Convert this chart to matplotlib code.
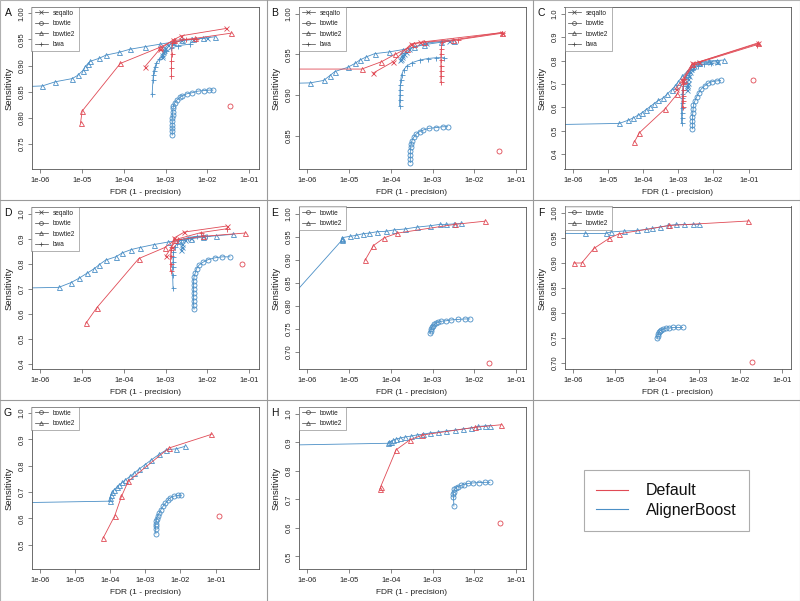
import numpy as np
import matplotlib
matplotlib.use("Agg")
import matplotlib.pyplot as plt
from matplotlib.lines import Line2D
from matplotlib.patches import Rectangle
from matplotlib.ticker import NullLocator

plt.rcParams['font.family'] = ['Liberation Sans', 'DejaVu Sans']

# ---- data: log10(FDR) and sensitivity ----
# panel A
a_seqalto_def_lfdr = [-3.49, -3.14, -2.82, -2.62, -1.55]
a_seqalto_def_sens = [0.898, 0.931, 0.949, 0.957, 0.971]
a_seqalto_boost_lfdr = [-3.09, -3.08, -3.06, -3.04, -3.01, -2.95, -2.82, -2.62, -2.34, -2.02]
a_seqalto_boost_sens = [0.916, 0.920, 0.925, 0.930, 0.934, 0.939, 0.944, 0.948, 0.950, 0.953]
a_bowtie_def_lfdr = [-1.47]
a_bowtie_def_sens = [0.823]
a_bowtie_boost_lfdr = [-2.84, -2.84, -2.84, -2.84, -2.84, -2.84, -2.83, -2.83, -2.82, -2.81,
                       -2.78, -2.73, -2.66, -2.60, -2.49, -2.36, -2.23, -2.09, -1.95, -1.87]
a_bowtie_boost_sens = [0.767, 0.774, 0.780, 0.786, 0.793, 0.799, 0.805, 0.812, 0.818, 0.823,
                       0.829, 0.834, 0.839, 0.842, 0.846, 0.848, 0.851, 0.852, 0.853, 0.853]
a_bowtie2_def_lfdr = [-5.03, -4.99, -4.08, -3.13, -2.80, -2.30, -1.43]
a_bowtie2_def_sens = [0.790, 0.813, 0.904, 0.935, 0.948, 0.952, 0.962]
a_bowtie2_boost_lfdr = [-7.5, -5.94, -5.63, -5.23, -5.10, -4.98, -4.92, -4.86, -4.80, -4.58,
                        -4.42, -4.12, -3.86, -3.50, -3.12, -2.82, -2.60, -2.36, -2.11, -1.83]
a_bowtie2_boost_sens = [0.856, 0.861, 0.869, 0.875, 0.881, 0.890, 0.898, 0.903, 0.908, 0.914,
                        0.920, 0.925, 0.931, 0.936, 0.941, 0.945, 0.948, 0.950, 0.952, 0.955]
a_bwa_def_lfdr = [-2.86, -2.86, -2.86, -2.85, -2.84, -2.50, -2.27]
a_bwa_def_sens = [0.880, 0.895, 0.909, 0.923, 0.943, 0.950, 0.950]
a_bwa_boost_lfdr = [-3.32, -3.30, -3.29, -3.28, -3.25, -3.22, -3.16, -3.08, -2.98, -2.86, -2.70, -2.42]
a_bwa_boost_sens = [0.845, 0.872, 0.882, 0.890, 0.898, 0.904, 0.912, 0.918, 0.927, 0.933, 0.938, 0.941]

# panel B
b_seqalto_def_lfdr = [-4.42, -3.94, -3.51, -3.30, -1.33]
b_seqalto_def_sens = [0.927, 0.941, 0.963, 0.965, 0.977]
b_seqalto_boost_lfdr = [-3.77, -3.76, -3.74, -3.72, -3.69, -3.64, -3.55, -3.15, -2.60]
b_seqalto_boost_sens = [0.943, 0.945, 0.947, 0.949, 0.951, 0.953, 0.957, 0.964, 0.967]
b_bowtie_def_lfdr = [-1.41]
b_bowtie_def_sens = [0.831]
b_bowtie_boost_lfdr = [-3.53, -3.53, -3.53, -3.53, -3.52, -3.51, -3.49, -3.45, -3.39, -3.31,
                       -3.22, -3.09, -2.91, -2.76, -2.64]
b_bowtie_boost_sens = [0.817, 0.8215, 0.826, 0.831, 0.836, 0.840, 0.844, 0.848, 0.852, 0.855,
                       0.857, 0.859, 0.860, 0.861, 0.861]
b_bowtie2_def_lfdr = [-7.5, -4.69, -4.22, -3.90, -3.62, -3.45, -3.20, -2.50, -1.33]
b_bowtie2_def_sens = [0.932, 0.932, 0.941, 0.950, 0.957, 0.963, 0.965, 0.968, 0.977]
b_bowtie2_boost_lfdr = [-7.5, -5.92, -5.60, -5.45, -5.33, -5.03, -4.85, -4.74, -4.58, -4.38,
                        -4.05, -3.70, -3.45, -3.20, -2.80, -2.48]
b_bowtie2_boost_sens = [0.913, 0.915, 0.918, 0.924, 0.929, 0.934, 0.939, 0.943, 0.947, 0.951,
                        0.953, 0.956, 0.959, 0.962, 0.965, 0.967]
b_bwa_def_lfdr = [-2.80, -2.80, -2.80, -2.80, -2.80, -2.80, -2.79, -2.78, -2.40, -1.35]
b_bwa_def_sens = [0.916, 0.923, 0.930, 0.936, 0.943, 0.951, 0.957, 0.965, 0.968, 0.976]
b_bwa_boost_lfdr = [-3.785, -3.785, -3.777, -3.777, -3.77, -3.76, -3.74, -3.69, -3.61, -3.48,
                    -3.31, -3.11, -2.91, -2.72]
b_bwa_boost_sens = [0.887, 0.894, 0.900, 0.906, 0.912, 0.918, 0.925, 0.931, 0.936, 0.940,
                    0.943, 0.945, 0.946, 0.946]

# panel C
c_seqalto_def_lfdr = [-3.08, -2.89, -2.60, -2.40, -0.72]
c_seqalto_def_sens = [0.678, 0.718, 0.788, 0.795, 0.876]
c_seqalto_boost_lfdr = [-2.75, -2.75, -2.74, -2.73, -2.72, -2.70, -2.67, -2.63, -2.55, -2.40, -2.10, -1.90]
c_seqalto_boost_sens = [0.675, 0.685, 0.695, 0.705, 0.720, 0.735, 0.750, 0.765, 0.778, 0.788, 0.793, 0.795]
c_bowtie_def_lfdr = [-0.88]
c_bowtie_def_sens = [0.718]
c_bowtie_boost_lfdr = [-2.60, -2.60, -2.60, -2.60, -2.59, -2.58, -2.57, -2.53, -2.48, -2.42,
                       -2.35, -2.25, -2.15, -2.04, -1.90, -1.80]
c_bowtie_boost_sens = [0.508, 0.525, 0.542, 0.559, 0.576, 0.593, 0.610, 0.627, 0.644, 0.661,
                       0.678, 0.692, 0.703, 0.710, 0.713, 0.715]
c_bowtie2_def_lfdr = [-4.25, -4.11, -3.38, -3.03, -2.85, -2.60, -0.72]
c_bowtie2_def_sens = [0.452, 0.491, 0.593, 0.657, 0.715, 0.785, 0.873]
c_bowtie2_boost_lfdr = [-7.5, -4.68, -4.42, -4.28, -4.16, -4.04, -3.92, -3.81, -3.69, -3.57, -3.43,
                        -3.31, -3.19, -3.09, -3.00, -2.89, -2.75, -2.60, -2.42, -2.13, -1.90, -1.71]
c_bowtie2_boost_sens = [0.523, 0.531, 0.545, 0.555, 0.565, 0.576, 0.590, 0.602, 0.616, 0.629, 0.640,
                        0.658, 0.675, 0.692, 0.710, 0.732, 0.753, 0.774, 0.791, 0.798, 0.800, 0.802]
c_bwa_def_lfdr = [-2.88, -2.88, -2.87, -2.87, -2.86, -2.85, -2.55, -0.75]
c_bwa_def_sens = [0.600, 0.625, 0.650, 0.675, 0.700, 0.720, 0.785, 0.868]
c_bwa_boost_lfdr = [-2.91, -2.91, -2.91, -2.91, -2.90, -2.89, -2.89, -2.88, -2.86, -2.83,
                    -2.77, -2.70, -2.58, -2.43, -2.27, -2.08]
c_bwa_boost_sens = [0.531, 0.555, 0.576, 0.597, 0.619, 0.640, 0.658, 0.675, 0.692, 0.710,
                    0.729, 0.746, 0.763, 0.777, 0.785, 0.791]

# panel D
d_seqalto_def_lfdr = [-3.00, -2.85, -2.80, -2.55, -1.54]
d_seqalto_def_sens = [0.830, 0.868, 0.903, 0.927, 0.951]
d_seqalto_boost_lfdr = [-2.62, -2.61, -2.60, -2.54, -2.38, -2.10]
d_seqalto_boost_sens = [0.854, 0.868, 0.881, 0.894, 0.905, 0.910]
d_bowtie_def_lfdr = [-1.17]
d_bowtie_def_sens = [0.801]
d_bowtie_boost_lfdr = [-2.32, -2.33, -2.33, -2.33, -2.33, -2.33, -2.33, -2.33, -2.32, -2.29,
                       -2.26, -2.20, -2.10, -1.98, -1.82, -1.64, -1.46]
d_bowtie_boost_sens = [0.619, 0.636, 0.653, 0.669, 0.685, 0.701, 0.717, 0.732, 0.748, 0.764,
                       0.780, 0.795, 0.807, 0.817, 0.824, 0.828, 0.828]
d_bowtie2_def_lfdr = [-4.90, -4.64, -3.64, -3.02, -2.78, -2.10, -1.10]
d_bowtie2_def_sens = [0.563, 0.625, 0.821, 0.865, 0.894, 0.910, 0.923]
d_bowtie2_boost_lfdr = [-7.5, -5.55, -5.26, -5.07, -4.88, -4.70, -4.58, -4.43, -4.19, -4.03,
                        -3.82, -3.62, -3.28, -2.94, -2.70, -2.40, -2.10, -1.80, -1.38]
d_bowtie2_boost_sens = [0.700, 0.706, 0.725, 0.742, 0.762, 0.781, 0.797, 0.815, 0.828, 0.844,
                        0.857, 0.865, 0.877, 0.887, 0.893, 0.900, 0.907, 0.912, 0.918]
d_bwa_def_lfdr = [-2.88, -2.88, -2.88, -2.87, -2.86, -2.70, -2.15, -1.54]
d_bwa_def_sens = [0.772, 0.800, 0.830, 0.855, 0.868, 0.900, 0.925, 0.940]
d_bwa_boost_lfdr = [-2.82, -2.83, -2.83, -2.82, -2.82, -2.81, -2.78, -2.72, -2.62, -2.46, -2.26, -2.02]
d_bwa_boost_sens = [0.702, 0.755, 0.788, 0.808, 0.828, 0.848, 0.868, 0.883, 0.897, 0.905, 0.910, 0.912]

# panel E
e_bowtie_def_lfdr = [-1.65]
e_bowtie_def_sens = [0.676]
e_bowtie_boost_lfdr = [-3.05, -3.04, -3.03, -3.02, -2.99, -2.96, -2.92, -2.87, -2.79, -2.68,
                       -2.55, -2.39, -2.23, -2.11]
e_bowtie_boost_sens = [0.741, 0.745, 0.749, 0.753, 0.756, 0.759, 0.762, 0.764, 0.766, 0.767,
                       0.769, 0.770, 0.771, 0.771]
e_bowtie2_def_lfdr = [-4.61, -4.41, -4.15, -3.84, -2.47, -1.75]
e_bowtie2_def_sens = [0.899, 0.931, 0.948, 0.958, 0.977, 0.984]
e_bowtie2_boost_lfdr = [-7.0, -5.17, -5.17, -5.16, -4.98, -4.83, -4.65, -4.51, -4.33, -4.11,
                        -3.92, -3.66, -3.38, -3.06, -2.83, -2.68, -2.49, -2.31]
e_bowtie2_boost_sens = [0.755, 0.942, 0.945, 0.948, 0.951, 0.953, 0.957, 0.958, 0.961, 0.962,
                        0.965, 0.967, 0.971, 0.974, 0.977, 0.977, 0.978, 0.979]

# panel F
f_bowtie_def_lfdr = [-1.72]
f_bowtie_def_sens = [0.701]
f_bowtie_boost_lfdr = [-3.98, -3.97, -3.96, -3.95, -3.92, -3.89, -3.84, -3.78, -3.70, -3.60, -3.50, -3.38]
f_bowtie_boost_sens = [0.750, 0.754, 0.758, 0.762, 0.764, 0.766, 0.768, 0.770, 0.770, 0.771, 0.771, 0.771]
f_bowtie2_def_lfdr = [-5.98, -5.79, -5.50, -5.14, -4.91, -3.70, -1.81]
f_bowtie2_def_sens = [0.900, 0.900, 0.929, 0.949, 0.958, 0.975, 0.984]
f_bowtie2_boost_lfdr = [-7.5, -5.70, -5.22, -5.10, -4.78, -4.46, -4.26, -4.10, -3.92, -3.72,
                        -3.54, -3.34, -3.14, -2.98]
f_bowtie2_boost_sens = [0.960, 0.959, 0.959, 0.962, 0.964, 0.965, 0.967, 0.969, 0.972, 0.975,
                        0.977, 0.977, 0.977, 0.977]

# panel G
g_bowtie_def_lfdr = [-0.91]
g_bowtie_def_sens = [0.607]
g_bowtie_boost_lfdr = [-2.70, -2.71, -2.71, -2.70, -2.69, -2.68, -2.65, -2.61, -2.56, -2.50,
                       -2.43, -2.35, -2.29, -2.19, -2.07, -1.98]
g_bowtie_boost_sens = [0.541, 0.560, 0.569, 0.579, 0.589, 0.599, 0.609, 0.619, 0.632, 0.645,
                       0.657, 0.670, 0.678, 0.684, 0.687, 0.687]
g_bowtie2_def_lfdr = [-4.20, -3.87, -3.68, -3.49, -2.33, -1.12]
g_bowtie2_def_sens = [0.525, 0.610, 0.683, 0.740, 0.867, 0.919]
g_bowtie2_boost_lfdr = [-7.5, -4.01, -4.00, -3.98, -3.95, -3.89, -3.82, -3.75, -3.66, -3.57,
                        -3.44, -3.32, -3.18, -3.02, -2.83, -2.61, -2.40, -2.12, -1.88]
g_bowtie2_boost_sens = [0.657, 0.665, 0.678, 0.688, 0.698, 0.708, 0.717, 0.726, 0.736, 0.746,
                        0.759, 0.772, 0.787, 0.803, 0.822, 0.843, 0.860, 0.864, 0.873]

# panel H
h_bowtie_def_lfdr = [-1.40]
h_bowtie_def_sens = [0.616]
h_bowtie_boost_lfdr = [-2.49, -2.50, -2.50, -2.49, -2.48, -2.44, -2.40, -2.33, -2.25, -2.15,
                       -2.03, -1.89, -1.75, -1.63]
h_bowtie_boost_sens = [0.677, 0.709, 0.719, 0.727, 0.735, 0.741, 0.745, 0.749, 0.752, 0.756,
                       0.758, 0.759, 0.760, 0.760]
h_bowtie2_def_lfdr = [-4.25, -4.24, -3.87, -3.54, -3.24, -1.99, -1.36]
h_bowtie2_def_sens = [0.738, 0.744, 0.874, 0.909, 0.926, 0.953, 0.962]
h_bowtie2_boost_lfdr = [-7.5, -4.06, -4.03, -4.00, -3.95, -3.87, -3.78, -3.66, -3.52, -3.38,
                        -3.22, -3.06, -2.87, -2.67, -2.47, -2.27, -2.07, -1.91, -1.75, -1.62]
h_bowtie2_boost_sens = [0.888, 0.897, 0.900, 0.903, 0.907, 0.912, 0.915, 0.919, 0.922, 0.926,
                        0.929, 0.933, 0.936, 0.940, 0.943, 0.947, 0.951, 0.956, 0.958, 0.959]

x_tick_labels = ['1e-06', '1e-05', '1e-04', '1e-03', '1e-02', '1e-01']
legend_labels = ['Default', 'AlignerBoost']

panels = {
    'A': {'seqalto': (a_seqalto_def_lfdr, a_seqalto_def_sens, a_seqalto_boost_lfdr, a_seqalto_boost_sens),
          'bowtie': (a_bowtie_def_lfdr, a_bowtie_def_sens, a_bowtie_boost_lfdr, a_bowtie_boost_sens),
          'bowtie2': (a_bowtie2_def_lfdr, a_bowtie2_def_sens, a_bowtie2_boost_lfdr, a_bowtie2_boost_sens),
          'bwa': (a_bwa_def_lfdr, a_bwa_def_sens, a_bwa_boost_lfdr, a_bwa_boost_sens)},
    'B': {'seqalto': (b_seqalto_def_lfdr, b_seqalto_def_sens, b_seqalto_boost_lfdr, b_seqalto_boost_sens),
          'bowtie': (b_bowtie_def_lfdr, b_bowtie_def_sens, b_bowtie_boost_lfdr, b_bowtie_boost_sens),
          'bowtie2': (b_bowtie2_def_lfdr, b_bowtie2_def_sens, b_bowtie2_boost_lfdr, b_bowtie2_boost_sens),
          'bwa': (b_bwa_def_lfdr, b_bwa_def_sens, b_bwa_boost_lfdr, b_bwa_boost_sens)},
    'C': {'seqalto': (c_seqalto_def_lfdr, c_seqalto_def_sens, c_seqalto_boost_lfdr, c_seqalto_boost_sens),
          'bowtie': (c_bowtie_def_lfdr, c_bowtie_def_sens, c_bowtie_boost_lfdr, c_bowtie_boost_sens),
          'bowtie2': (c_bowtie2_def_lfdr, c_bowtie2_def_sens, c_bowtie2_boost_lfdr, c_bowtie2_boost_sens),
          'bwa': (c_bwa_def_lfdr, c_bwa_def_sens, c_bwa_boost_lfdr, c_bwa_boost_sens)},
    'D': {'seqalto': (d_seqalto_def_lfdr, d_seqalto_def_sens, d_seqalto_boost_lfdr, d_seqalto_boost_sens),
          'bowtie': (d_bowtie_def_lfdr, d_bowtie_def_sens, d_bowtie_boost_lfdr, d_bowtie_boost_sens),
          'bowtie2': (d_bowtie2_def_lfdr, d_bowtie2_def_sens, d_bowtie2_boost_lfdr, d_bowtie2_boost_sens),
          'bwa': (d_bwa_def_lfdr, d_bwa_def_sens, d_bwa_boost_lfdr, d_bwa_boost_sens)},
    'E': {'bowtie': (e_bowtie_def_lfdr, e_bowtie_def_sens, e_bowtie_boost_lfdr, e_bowtie_boost_sens),
          'bowtie2': (e_bowtie2_def_lfdr, e_bowtie2_def_sens, e_bowtie2_boost_lfdr, e_bowtie2_boost_sens)},
    'F': {'bowtie': (f_bowtie_def_lfdr, f_bowtie_def_sens, f_bowtie_boost_lfdr, f_bowtie_boost_sens),
          'bowtie2': (f_bowtie2_def_lfdr, f_bowtie2_def_sens, f_bowtie2_boost_lfdr, f_bowtie2_boost_sens)},
    'G': {'bowtie': (g_bowtie_def_lfdr, g_bowtie_def_sens, g_bowtie_boost_lfdr, g_bowtie_boost_sens),
          'bowtie2': (g_bowtie2_def_lfdr, g_bowtie2_def_sens, g_bowtie2_boost_lfdr, g_bowtie2_boost_sens)},
    'H': {'bowtie': (h_bowtie_def_lfdr, h_bowtie_def_sens, h_bowtie_boost_lfdr, h_bowtie_boost_sens),
          'bowtie2': (h_bowtie2_def_lfdr, h_bowtie2_def_sens, h_bowtie2_boost_lfdr, h_bowtie2_boost_sens)},
}

# axis ranges (log10 x) and y ticks per panel
x_ranges = {'A': (-6.2, -0.78), 'B': (-6.2, -0.78), 'C': (-6.24, 0.22), 'D': (-6.2, -0.78),
            'E': (-6.2, -0.78), 'F': (-6.2, -0.78), 'G': (-6.24, 0.22), 'H': (-6.2, -0.78)}
y_ranges = {'A': (0.702, 1.013), 'B': (0.809, 1.009), 'C': (0.336, 1.031), 'D': (0.380, 1.029),
            'E': (0.662, 1.016), 'F': (0.688, 1.013), 'G': (0.407, 1.025), 'H': (0.456, 1.026)}
y_ticks = {'A': ['0.75', '0.80', '0.85', '0.90', '0.95', '1.00'],
           'B': ['0.85', '0.90', '0.95', '1.00'],
           'C': ['0.4', '0.5', '0.6', '0.7', '0.8', '0.9', '1.0'],
           'D': ['0.4', '0.5', '0.6', '0.7', '0.8', '0.9', '1.0'],
           'E': ['0.70', '0.75', '0.80', '0.85', '0.90', '0.95', '1.00'],
           'F': ['0.70', '0.75', '0.80', '0.85', '0.90', '0.95', '1.00'],
           'G': ['0.5', '0.6', '0.7', '0.8', '0.9', '1.0'],
           'H': ['0.5', '0.6', '0.7', '0.8', '0.9', '1.0']}

RED = '#e04a55'
BLUE = '#4b8fc6'
FRAME = '#555555'
markers = {'seqalto': 'x', 'bowtie': 'o', 'bowtie2': '^', 'bwa': '+'}

W, H = 800, 601
fig = plt.figure(figsize=(8, 6.01), dpi=100)
col_x = [0, 267, 533]
row_y = [0, 200, 400]


def px_rect(x0, y0, w, h):
    return [x0 / W, 1 - (y0 + h) / H, w / W, h / H]


def line_style(name, color):
    return dict(color=color, lw=0.6, marker=markers[name], ms=3.6,
                mfc='none', mec=color, mew=0.6)


for k, letter in enumerate(['A', 'B', 'C', 'D', 'E', 'F', 'G', 'H']):
    cx = col_x[k % 3]
    cy = row_y[k // 3]
    ax = fig.add_axes(px_rect(cx + 31.5, cy + 6.5, 227, 162.5))
    data = panels[letter]

    # AlignerBoost first, Default drawn on top
    for name, (dl, ds, bl, bs) in data.items():
        ax.plot(10.0 ** np.array(bl), bs, **line_style(name, BLUE))
    for name, (dl, ds, bl, bs) in data.items():
        ax.plot(10.0 ** np.array(dl), ds, **line_style(name, RED))

    ax.set_xscale('log')
    x0, x1 = x_ranges[letter]
    ax.set_xlim(10.0 ** x0, 10.0 ** x1)
    ax.set_ylim(*y_ranges[letter])
    ax.set_xticks(10.0 ** np.arange(-6, 0))
    ax.set_xticklabels(x_tick_labels)
    ax.xaxis.set_minor_locator(NullLocator())
    yt = y_ticks[letter]
    ax.set_yticks([float(v) for v in yt])
    ax.set_yticklabels(yt, rotation=90, va='center')
    ax.tick_params(axis='both', direction='out', length=2.8, width=0.5, color=FRAME,
                   labelsize=5.4, labelcolor='#222222')
    ax.tick_params(axis='x', pad=3.2)
    ax.tick_params(axis='y', pad=1.6)
    for sp in ax.spines.values():
        sp.set_color(FRAME)
        sp.set_linewidth(0.6)

    handles = [Line2D([], [], color='#444444', lw=0.5, marker=markers[n], ms=2.8,
                      mfc='none', mew=0.5) for n in data]
    leg = ax.legend(handles, list(data.keys()), loc='upper left', fontsize=4.7,
                    frameon=True, fancybox=False, borderaxespad=0, borderpad=0.5,
                    handlelength=2.0, handletextpad=0.8, labelspacing=0.52, numpoints=1)
    leg.get_frame().set_edgecolor('#777777')
    leg.get_frame().set_linewidth(0.5)
    for t in leg.get_texts():
        t.set_color('#222222')

    # panel letter and axis titles
    fig.text((cx + 8) / W, 1 - (cy + 13) / H, letter, fontsize=7.5, ha='center', va='center',
             color='#111111')
    fig.text((cx + 9) / W, 1 - (cy + 88) / H, 'Sensitivity', rotation=90, fontsize=6.8,
             ha='center', va='center', color='#222222')
    fig.text((cx + 145) / W, 1 - (cy + 193) / H, 'FDR (1 - precision)', fontsize=6.0,
             ha='center', va='center', color='#222222')

# last cell: colour key
lax = fig.add_axes(px_rect(533, 400, 267, 201))
lax.axis('off')
key = [Line2D([], [], color=RED, lw=0.8), Line2D([], [], color=BLUE, lw=0.8)]
kleg = lax.legend(key, legend_labels, loc='center', fontsize=11.5, frameon=True, fancybox=False,
                  handlelength=2.0, handletextpad=1.1, labelspacing=0.3, borderpad=0.8)
kleg.get_frame().set_edgecolor('#999999')
kleg.get_frame().set_linewidth(0.8)
for t in kleg.get_texts():
    t.set_color('#111111')

# cell separators
sep = dict(color='#9a9a9a', lw=0.8, transform=fig.transFigure)
for x in [267, 533]:
    fig.add_artist(Line2D([x / W, x / W], [0, 1], **sep))
for y in [200, 400]:
    fig.add_artist(Line2D([0, 1], [1 - y / H, 1 - y / H], **sep))
fig.add_artist(Rectangle((0.0005, 0.0005), 0.999, 0.999, fill=False, edgecolor='#b0b0b0',
                         lw=0.8, transform=fig.transFigure))

fig.savefig('out.png', dpi=100)
